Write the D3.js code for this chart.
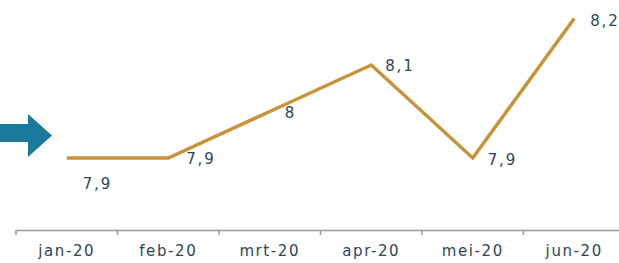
<!DOCTYPE html>
<html>
<head>
<meta charset="utf-8">
<script src="https://cdn.jsdelivr.net/npm/d3@7"></script>
<style>
  body { margin: 0; background: #fff; }
  svg { display: block; }
</style>
</head>
<body>
<div id="vis"></div>
<script>
// frame constants
const FRAME_WIDTH = 619;
const FRAME_HEIGHT = 263;
const FONT = "Verdana, 'DejaVu Sans', sans-serif";
const TEXT_COLOR = "#2e4656";

// data
const MONTHS = ["jan-20", "feb-20", "mrt-20", "apr-20", "mei-20", "jun-20"];
const VALUES = [7.9, 7.9, 8.0, 8.1, 7.9, 8.2];
const LABELS = ["7,9", "7,9", "8", "8,1", "7,9", "8,2"];
// label placement per point: [dx, dy] from the point, text starts here
const LABEL_OFFSETS = [[16, 31], [18, 6], [15, 6], [14, 6], [15, 7], [16, 7]];

const FRAME = d3.select("#vis")
  .append("svg")
    .attr("width", FRAME_WIDTH)
    .attr("height", FRAME_HEIGHT);

const X_SCALE = d3.scaleBand()
  .domain(MONTHS)
  .range([16, 625]);

const Y_SCALE = d3.scaleLinear()
  .domain([7.9, 8.2])
  .range([158, 18.5]);

// x axis
const xAxis = FRAME.append("g")
  .attr("transform", "translate(0,230)")
  .call(d3.axisBottom(X_SCALE).tickSizeOuter(0).tickSizeInner(0).tickPadding(0));

xAxis.select(".domain").attr("stroke", "#9a9a9a").attr("stroke-width", 1.5);
xAxis.selectAll(".tick text")
  .attr("y", 26)
  .attr("dy", 0)
  .attr("font-family", FONT)
  .attr("font-size", "15px")
  .attr("letter-spacing", "1.6px")
  .attr("fill", TEXT_COLOR);

// tick marks at band edges
FRAME.append("g")
  .selectAll("line")
  .data(MONTHS)
  .enter()
  .append("line")
    .attr("x1", (d) => X_SCALE(d))
    .attr("x2", (d) => X_SCALE(d))
    .attr("y1", 230)
    .attr("y2", 235)
    .attr("stroke", "#9a9a9a")
    .attr("stroke-width", 1.5);

// line
const line = d3.line()
  .x((d, i) => X_SCALE(MONTHS[i]) + X_SCALE.bandwidth() / 2)
  .y((d) => Y_SCALE(d));

FRAME.append("path")
  .datum(VALUES)
  .attr("d", line)
  .attr("fill", "none")
  .attr("stroke", "#c8943a")
  .attr("stroke-width", 3.5)
  .attr("stroke-linejoin", "miter");

// data labels
FRAME.selectAll(".lbl")
  .data(VALUES)
  .enter()
  .append("text")
    .attr("x", (d, i) => X_SCALE(MONTHS[i]) + X_SCALE.bandwidth() / 2 + LABEL_OFFSETS[i][0])
    .attr("y", (d, i) => Y_SCALE(d) + LABEL_OFFSETS[i][1])
    .attr("font-family", FONT)
    .attr("font-size", "15px")
    .attr("letter-spacing", "1.8px")
    .attr("fill", TEXT_COLOR)
    .text((d, i) => LABELS[i]);

// arrow on the left
FRAME.append("path")
  .attr("d", "M0,124 L28,124 L28,114 L52,135.5 L28,157 L28,142 L0,142 Z")
  .attr("fill", "#1b7a9c");
</script>
</body>
</html>
